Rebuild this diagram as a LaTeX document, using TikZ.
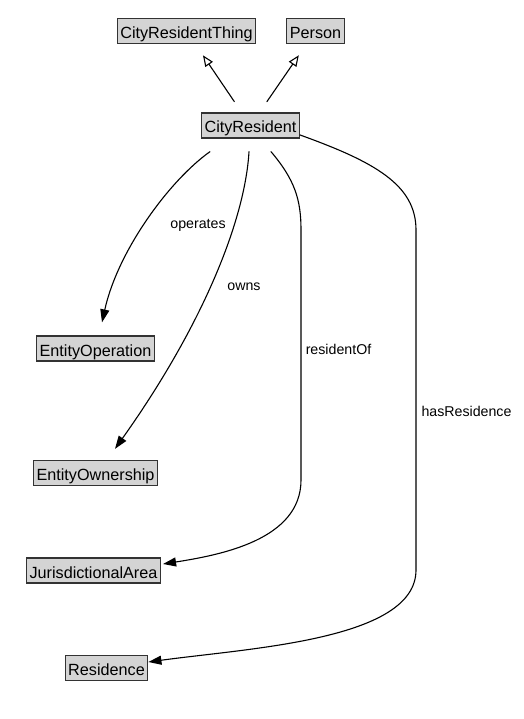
\documentclass[tikz,border=0pt]{standalone}
\usepackage{fontspec}
\setmainfont{Liberation Sans}
\usetikzlibrary{arrows.meta}

\begin{document}
\begin{tikzpicture}[x=1pt,y=-1pt,line cap=round]
  % Colors
  \colorlet{classfill}{black!17}
  \colorlet{classline}{black!80}

  % Styles
  \tikzstyle{class}=[draw=classline,fill=classfill,line width=1.3pt,inner xsep=3pt,inner ysep=0pt,
    text height=20pt,text depth=5pt,font=\fontsize{16.2}{18}\selectfont]
  \tikzstyle{isa}=[line width=1.1pt,-{Triangle[open,length=11pt,width=9pt]},shorten <=13pt,shorten >=13.5pt]
  \tikzstyle{property}=[line width=1.1pt,-{Triangle[length=13pt,width=9pt]}]
  \tikzstyle{property text}=[fill=white,inner xsep=3pt,inner ysep=3pt,font=\fontsize{14.2}{16}\selectfont]

  \useasboundingbox (0,0) rectangle (523,719);

  % The classes
  \node[class] (cityresidentthing) at (186.5,31) {CityResidentThing};
  \node[class] (person) at (315.5,31) {Person};
  \node[class] (cityresident) at (250.5,125.5) {CityResident};
  \node[class] (entityoperation) at (95.5,348.5) {EntityOperation};
  \node[class] (entityownership) at (95.5,473) {EntityOwnership};
  \node[class] (jurisdictionalarea) at (93.5,570.5) {JurisdictionalArea};
  \node[class] (residence) at (106.5,668) {Residence};

  % Subclass arrows
  \draw[isa] (cityresident) -- (cityresidentthing);
  \draw[isa] (cityresident) -- (person);

  % Properties
  \draw[property] ([shift={(-40.5,13)}]cityresident.south)
    .. controls (170,180) and (118,250) .. ([shift={(6.5,-13)}]entityoperation.north);
  \draw[property] ([shift={(-1.5,13)}]cityresident.south)
    .. controls (245,220) and (203,325) .. ([shift={(19.5,-11)}]entityownership.north);
  \draw[property] ([shift={(20.5,13)}]cityresident.south)
    .. controls (295,180) and (301,200) .. (301,230) -- (301,480)
    .. controls (301,540) and (220,555) .. ([shift={(2,-6.5)}]jurisdictionalarea.east);
  \draw[property] ([shift={(0,9.5)}]cityresident.east)
    .. controls (375,162) and (416,185) .. (416,230) -- (416,570)
    .. controls (416,640) and (250,648) .. ([shift={(0,-6)}]residence.east);

  % Property names
  \node[property text] (operates) at (198,225) {operates};
  \node[property text] (owns) at (244,287) {owns};
  \node[property text] (residentof) at (338.5,349) {residentOf};
  \node[property text] (hasresidence) at (466.5,411) {hasResidence};
\end{tikzpicture}
\end{document}
